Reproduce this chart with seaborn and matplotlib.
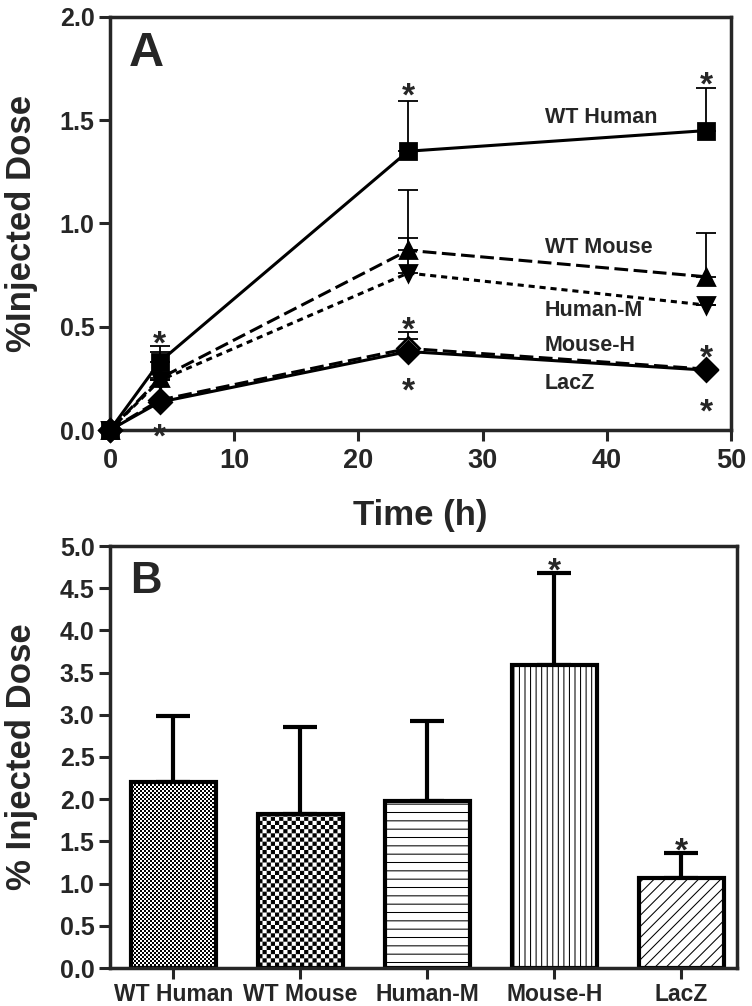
import warnings
warnings.filterwarnings("ignore")
import numpy as np
import pandas as pd
import matplotlib
matplotlib.use("Agg")
import matplotlib.pyplot as plt
import matplotlib.hatch as mhatch
from matplotlib.path import Path
import seaborn as sns

# ---------------- Panel A data ----------------
time_h = [0, 4, 24, 48]
series_names = ["WT Human", "WT Mouse", "Human-M", "Mouse-H", "LacZ"]
wt_human = [0.0, 0.33, 1.35, 1.45]
wt_human_upper = [0.0, 0.405, 1.595, 1.655]
wt_mouse = [0.0, 0.25, 0.87, 0.742]
wt_mouse_upper = [0.0, 0.38, 1.162, 0.952]
human_m = [0.0, 0.24, 0.76, 0.605]
human_m_upper = [0.0, 0.24, 0.931, 0.605]
mouse_h = [0.0, 0.145, 0.395, 0.295]
mouse_h_upper = [0.0, 0.145, 0.473, 0.295]
lacz = [0.0, 0.135, 0.38, 0.29]
lacz_upper = [0.0, 0.135, 0.44, 0.29]
label_y = [1.515, 0.884, 0.578, 0.408, 0.223]
star_a_t = [4, 4, 24, 24, 24, 48, 48, 48]
star_a_y = [0.465, 0.015, 1.67, 0.535, 0.24, 1.72, 0.40, 0.137]

# ---------------- Panel B data ----------------
groups = ["WT Human", "WT Mouse", "Human-M", "Mouse-H", "LacZ"]
dose = [2.20, 1.82, 1.98, 3.59, 1.065]
dose_upper = [2.99, 2.86, 2.93, 4.68, 1.36]
star_b_idx = [3, 4]
star_b_y = [4.83, 1.51]

# ---------------- style ----------------
sns.set_style("ticks")
plt.rcParams["font.family"] = ["Liberation Sans", "DejaVu Sans"]
plt.rcParams["font.weight"] = "bold"
plt.rcParams["hatch.linewidth"] = 0.75
plt.rcParams["hatch.color"] = "black"

HATCH_LW_PX = 0.75 * 100 / 72.0


class CheckerHatch(mhatch.HatchPatternBase):
    """Filled checkerboard hatch ('c' = coarse, 'cc' = fine)."""

    def __init__(self, hatch, density):
        k = hatch.count("c")
        self.n = {0: 0, 1: 24}.get(k, 50)
        if self.n:
            self.cells = [(i, j) for i in range(self.n) for j in range(self.n)
                          if (i + j) % 2 == 0]
            self.num_vertices = len(self.cells) * 5
        else:
            self.cells = []
            self.num_vertices = 0

    def set_vertices_and_codes(self, vertices, codes):
        c = 1.0 / self.n
        ins = HATCH_LW_PX / 2.0 / 100.0
        k = 0
        for i, j in self.cells:
            x0, x1 = i * c + ins, (i + 1) * c - ins
            y0, y1 = j * c + ins, (j + 1) * c - ins
            vertices[k:k + 5] = [(x0, y0), (x1, y0), (x1, y1), (x0, y1), (x0, y0)]
            codes[k:k + 5] = [Path.MOVETO, Path.LINETO, Path.LINETO,
                              Path.LINETO, Path.CLOSEPOLY]
            k += 5


mhatch._hatch_types.append(CheckerHatch)

fig = plt.figure(figsize=(7.52, 10.06), dpi=100)
W, H = 752.0, 1006.0


def axes_px(x0, x1, ytop, ybot):
    return fig.add_axes([x0 / W, 1 - ybot / H, (x1 - x0) / W, (ybot - ytop) / H])


SPINE_LW = 2.5
STAR_FS = 24

# ================= Panel A =================
axA = axes_px(110, 731, 17, 430)
means = [wt_human, wt_mouse, human_m, mouse_h, lacz]
uppers = [wt_human_upper, wt_mouse_upper, human_m_upper, mouse_h_upper, lacz_upper]
markers = ["s", "^", "v", "D", "D"]
msizes = [12, 12, 12, 11, 11]
faces = ["k", "k", "k", "white", "k"]
styles = ["-", (0, (4.5, 1.8)), (0, (2.0, 1.6)), (0, (4.5, 1.8)), "-"]
draw_order = [4, 3, 2, 1, 0]

for i in draw_order:
    m = np.array(means[i])
    u = np.array(uppers[i])
    axA.errorbar(time_h, m, yerr=[np.zeros_like(m), u - m], fmt="none",
                 ecolor="k", elinewidth=1.3, capsize=7.5, capthick=1.3,
                 zorder=2)
for i in draw_order:
    df = pd.DataFrame({"t": time_h, "v": means[i]})
    sns.lineplot(data=df, x="t", y="v", ax=axA, color="k", linewidth=2.2,
                 linestyle=styles[i], marker=markers[i], markersize=msizes[i],
                 markerfacecolor=faces[i], markeredgecolor="k",
                 markeredgewidth=2.0, sort=False, zorder=3 + i * 0.1)
for ln in axA.lines:
    ln.set_clip_on(False)

for name, y in zip(series_names, label_y):
    axA.text(35.0, y, name, ha="left", va="center", fontsize=15.5,
             fontweight="bold")

for t, y in zip(star_a_t, star_a_y):
    axA.annotate("*", (t, y), xytext=(0, -0.6 * STAR_FS), textcoords="offset points",
                 ha="center", va="baseline", fontsize=STAR_FS, fontweight="bold",
                 annotation_clip=False)

axA.text(0.03, 0.965, "A", transform=axA.transAxes, ha="left", va="top",
         fontsize=35, fontweight="bold")

axA.set_xlim(0, 50)
axA.set_ylim(0, 2.0)
axA.set_xticks([0, 10, 20, 30, 40, 50])
axA.set_yticks([0.0, 0.5, 1.0, 1.5, 2.0])
axA.set_yticklabels(["0.0", "0.5", "1.0", "1.5", "2.0"])
axA.tick_params(axis="both", direction="out", length=8, width=2.2, pad=3,
                top=False, right=False)
axA.tick_params(axis="y", labelsize=18)
axA.tick_params(axis="x", labelsize=19.5, pad=5)
axA.set_xlabel("Time (h)", fontsize=25, fontweight="bold", labelpad=18)
axA.set_ylabel("%Injected Dose", fontsize=25, fontweight="bold")
axA.yaxis.set_label_coords((38 - 110) / 621.0, 0.5)
for sp in axA.spines.values():
    sp.set_linewidth(SPINE_LW)
    sp.set_visible(True)

# ================= Panel B =================
axB = axes_px(110, 737, 546, 968)
dfB = pd.DataFrame({"group": groups, "dose": dose})
sns.barplot(data=dfB, x="group", y="dose", ax=axB, color="white",
            saturation=1, edgecolor="k", linewidth=3, width=0.67,
            errorbar=None, zorder=2)
hatches = ["cc", "c", "--", "|||", "///"]
for patch, h in zip(axB.patches, hatches):
    patch.set_hatch(h)
    patch.set_facecolor("white")

d = np.array(dose)
u = np.array(dose_upper)
axB.errorbar(np.arange(len(groups)), d, yerr=[np.zeros_like(d), u - d],
             fmt="none", ecolor="k", elinewidth=3, capsize=12.5, capthick=3,
             zorder=1)

for i, y in zip(star_b_idx, star_b_y):
    axB.annotate("*", (i, y), xytext=(0, -0.6 * STAR_FS), textcoords="offset points",
                 ha="center", va="baseline", fontsize=STAR_FS, fontweight="bold",
                 annotation_clip=False)

axB.text(0.032, 0.965, "B", transform=axB.transAxes, ha="left", va="top",
         fontsize=31.5, fontweight="bold")

axB.set_xlim(-0.5, 4.44)
axB.set_ylim(0, 5.0)
yt = np.arange(0, 5.01, 0.5)
axB.set_yticks(yt)
axB.set_yticklabels([f"{v:.1f}" for v in yt])
axB.tick_params(axis="both", direction="out", length=8, width=2.2, pad=3,
                top=False, right=False)
axB.tick_params(axis="y", labelsize=18)
axB.tick_params(axis="x", labelsize=16.5, pad=3)
axB.set_xlabel("")
axB.set_ylabel("% Injected Dose", fontsize=25, fontweight="bold")
axB.yaxis.set_label_coords((38 - 110) / 627.0, 0.5)
for sp in axB.spines.values():
    sp.set_linewidth(SPINE_LW)
    sp.set_visible(True)

fig.savefig("out.png", dpi=100)
